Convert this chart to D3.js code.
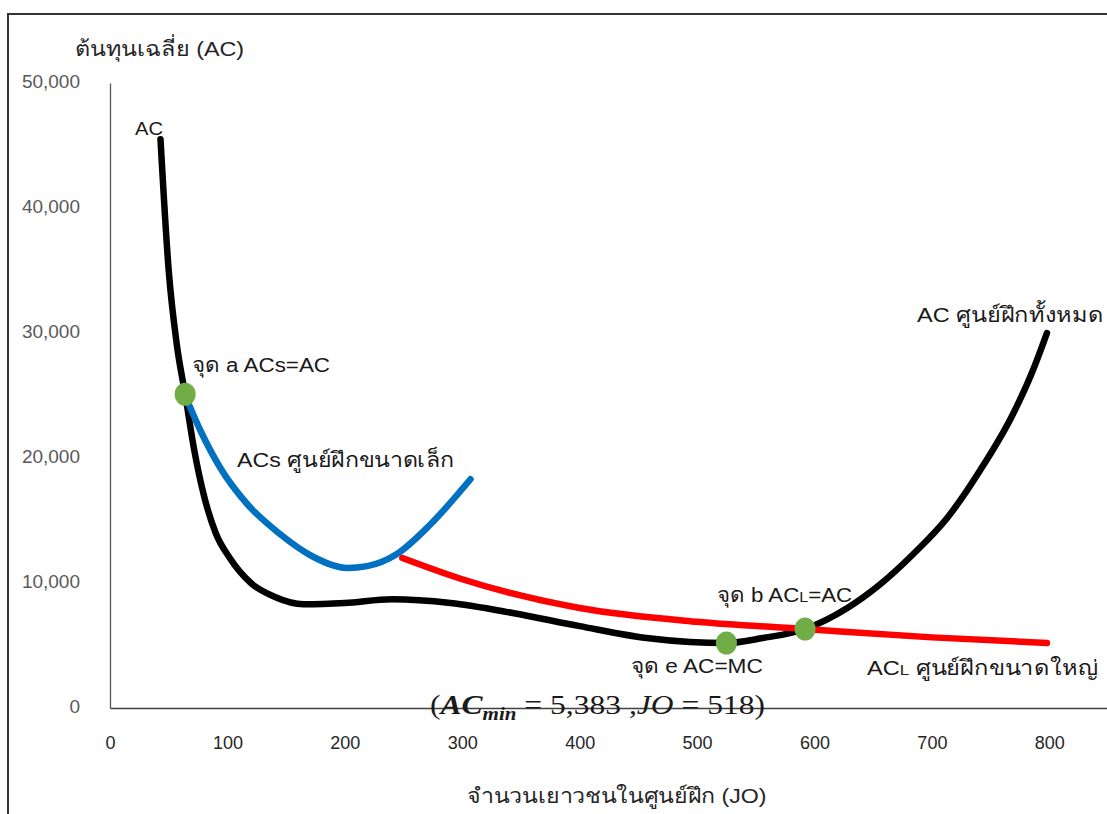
<!DOCTYPE html>
<html><head><meta charset="utf-8">
<script src="https://cdn.jsdelivr.net/npm/d3@7"></script>
<style>body{margin:0;background:#fff;} svg{display:block;}</style>
</head><body><svg id="c" width="1107" height="814"></svg>
<script>
// ---- data ----
const xTickValues = [0, 100, 200, 300, 400, 500, 600, 700, 800];
const yTickValues = [0, 10000, 20000, 30000, 40000, 50000];

// AC (all centres) – black curve
const acJO = [43, 50, 57, 64, 72, 80, 90, 102, 120, 140, 165, 200, 240, 290, 343, 400, 457, 494, 525, 556, 592, 628, 656, 684, 713, 741, 769, 786, 798];
const acCost = [45500, 35000, 29000, 25100, 20500, 17000, 14000, 12000, 10000, 8900, 8300, 8400, 8700, 8400, 7600, 6550, 5600, 5280, 5200, 5600, 6320, 8000, 9900, 12300, 15200, 19000, 23500, 27000, 30000];

// ACs (small centres) – blue curve
const acsJO = [64, 77, 94, 117, 145, 173, 202, 219, 244, 273, 307];
const acsCost = [25000, 22200, 19200, 16300, 13900, 12100, 11200, 11350, 12300, 14700, 18300];

// ACL (large centres) – red curve
const aclJO = [249, 300, 400, 500, 592, 700, 798];
const aclCost = [12000, 10300, 8000, 6900, 6320, 5650, 5200];

// marked points a, e, b
const pointNames = ["a", "e", "b"];
const pointJO = [64, 525, 592];
const pointCost = [25100, 5200, 6320];

// ---- drawing ----
const svg = d3.select("#c");
const W = 1107, H = 814;
svg.append("rect").attr("width", W).attr("height", H).attr("fill", "#fff");

// frame (extends beyond right/bottom edges like the reference)
svg.append("path").attr("d", `M8,${H + 5} L8,14 L${W + 5},14`)
  .attr("fill", "none").attr("stroke", "#333").attr("stroke-width", 2);

const font = "Arial, 'Liberation Sans', Tahoma, sans-serif";
const x = d3.scaleLinear().domain([0, 850]).range([110, 1108]);
const y = d3.scaleLinear().domain([0, 50000]).range([708, 83]);

// y axis
const yAx = svg.append("g").attr("transform", "translate(110,0)")
  .call(d3.axisLeft(y).tickValues(yTickValues).tickSize(0).tickPadding(30).tickFormat(d3.format(",")));
yAx.select(".domain").attr("stroke", "#595959").attr("stroke-width", 1.3);
yAx.selectAll("text").attr("font-family", font).attr("font-size", 19).attr("fill", "#595959").attr("dy", "0.22em");

// x axis
const xAx = svg.append("g").attr("transform", "translate(0,708)")
  .call(d3.axisBottom(x).tickValues(xTickValues).tickSize(0).tickPadding(28));
xAx.select(".domain").attr("stroke", "#404040").attr("stroke-width", 1.3);
xAx.selectAll("text").attr("font-family", font).attr("font-size", 18).attr("fill", "#262626");

// curves
const line = d3.line().x(d => x(d[0])).y(d => y(d[1])).curve(d3.curveMonotoneX);
const drawCurve = (jo, cost, color) => svg.append("path").datum(jo.map((v, i) => [v, cost[i]]))
  .attr("d", line).attr("fill", "none").attr("stroke", color)
  .attr("stroke-width", 6.5).attr("stroke-linecap", "round").attr("stroke-linejoin", "round");
drawCurve(acJO, acCost, "#000000");
drawCurve(acsJO, acsCost, "#0070C0");
drawCurve(aclJO, aclCost, "#FF0000");

// points
svg.selectAll("ellipse.pt").data(pointNames).enter().append("ellipse").attr("class", "pt")
  .attr("cx", (d, i) => x(pointJO[i])).attr("cy", (d, i) => y(pointCost[i]))
  .attr("rx", 10.5).attr("ry", 11.5).attr("fill", "#70AD47");

// text helper: draws parts, then stretches horizontally to the given width
const lab = (tx, ty, parts, size, width, opts) => {
  opts = opts || {};
  const g = svg.append("g").attr("transform", `translate(${tx},${ty})`);
  const t = g.append("text").attr("font-family", opts.family || font)
    .attr("font-size", size).attr("fill", opts.fill || "#1a1a1a").attr("text-anchor", opts.anchor || "start");
  parts.forEach(p => {
    const s = t.append("tspan").text(p.t);
    if (p.fs) s.attr("font-size", p.fs);
    if (p.fw) s.attr("font-weight", p.fw);
    if (p.it) s.attr("font-style", "italic");
    if (p.dy) s.attr("dy", p.dy);
  });
  if (width) {
    const w = t.node().getComputedTextLength();
    g.attr("transform", `translate(${tx},${ty}) scale(${width / w},1)`);
  }
  return g;
};

// axis titles
lab(75, 56, [{t: "ต้นทุนเฉลี่ย (AC)"}], 21, 168, {fill: "#262626"});
lab(617, 803, [{t: "จำนวนเยาวชนในศูนย์ฝึก (JO)"}], 21, 298, {fill: "#262626", anchor: "middle"});

// annotations
lab(135, 135, [{t: "AC"}], 18, 28);
lab(192, 372, [{t: "จุด a ACs=AC"}], 21, 138);
lab(237, 467, [{t: "ACs ศูนย์ฝึกขนาดเล็ก"}], 21, 217);
lab(917, 322, [{t: "AC ศูนย์ฝึกทั้งหมด"}], 21, 185);
lab(717, 602, [{t: "จุด b AC"}, {t: "L", fs: 15}, {t: "=AC"}], 21, 135);
lab(631, 673, [{t: "จุด e AC=MC"}], 21, 132);
lab(867, 675, [{t: "AC"}, {t: "L", fs: 15}, {t: " ศูนย์ฝึกขนาดใหญ่"}], 21, 229);

// formula
lab(430, 714, [
  {t: "("},
  {t: "AC", fw: "bold", it: true},
  {t: "min", fw: "bold", it: true, fs: 18, dy: 6},
  {t: " = 5,383 ,", dy: -6},
  {t: "JO", it: true},
  {t: " = 518)"}
], 27, 335, {family: "'Liberation Serif', 'DejaVu Serif', serif"});
</script>
</body></html>
